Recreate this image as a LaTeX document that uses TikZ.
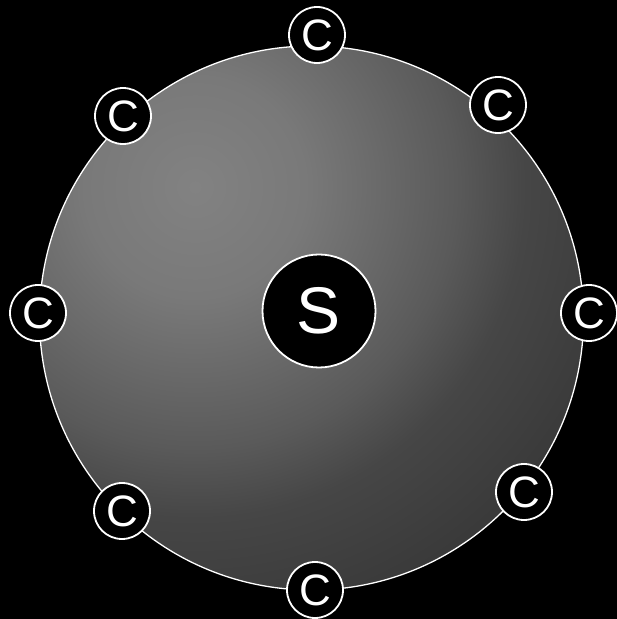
\documentclass[tikz,border=0pt]{standalone}
\usepackage{fontspec}
\setmainfont{Liberation Sans}
\definecolor{gA}{HTML}{828282}
\definecolor{gB}{HTML}{797979}
\definecolor{gC}{HTML}{5A5A5A}
\definecolor{gD}{HTML}{464646}
\definecolor{gE}{HTML}{3A3A3A}
\pgfdeclareradialshading{discshade}{\pgfpoint{0bp}{0bp}}{%
  color(0bp)=(gA); color(110bp)=(gB); color(260bp)=(gC); color(330bp)=(gD); color(440bp)=(gE); color(560bp)=(gE)}
\tikzset{
  cnode/.style={circle, draw=white, line width=1.8pt, fill=black, text=white,
    minimum size=56pt, inner sep=0pt, font=\fontsize{44}{44}\selectfont},
  snode/.style={circle, draw=white, line width=1.8pt, fill=black, text=white,
    minimum size=113pt, inner sep=0pt, font=\fontsize{66}{66}\selectfont},
  rim/.style={draw=white, line width=1.3pt}
}
\begin{document}
\begin{tikzpicture}[x=1pt,y=1pt]
\fill[black] (0,0) rectangle (617,619);
\useasboundingbox (0,0) rectangle (617,619);
\coordinate (ctr) at (311.5,301);
\coordinate (hl) at (195,432);
\begin{scope}
\clip (ctr) circle[radius=272];
\node[inner sep=0pt, outer sep=0pt] (shd) at (hl) {\pgfuseshading{discshade}};
\end{scope}
\draw[rim] (ctr) circle[radius=272];
\node[snode] (s) at (319,308) {S};
\node[cnode] (c1) at (317,584) {C};
\node[cnode] (c2) at (498,514) {C};
\node[cnode] (c3) at (589,306) {C};
\node[cnode] (c4) at (524,127) {C};
\node[cnode] (c5) at (315,29) {C};
\node[cnode] (c6) at (122,108) {C};
\node[cnode] (c7) at (38,306) {C};
\node[cnode] (c8) at (123,503) {C};
\end{tikzpicture}
\end{document}
